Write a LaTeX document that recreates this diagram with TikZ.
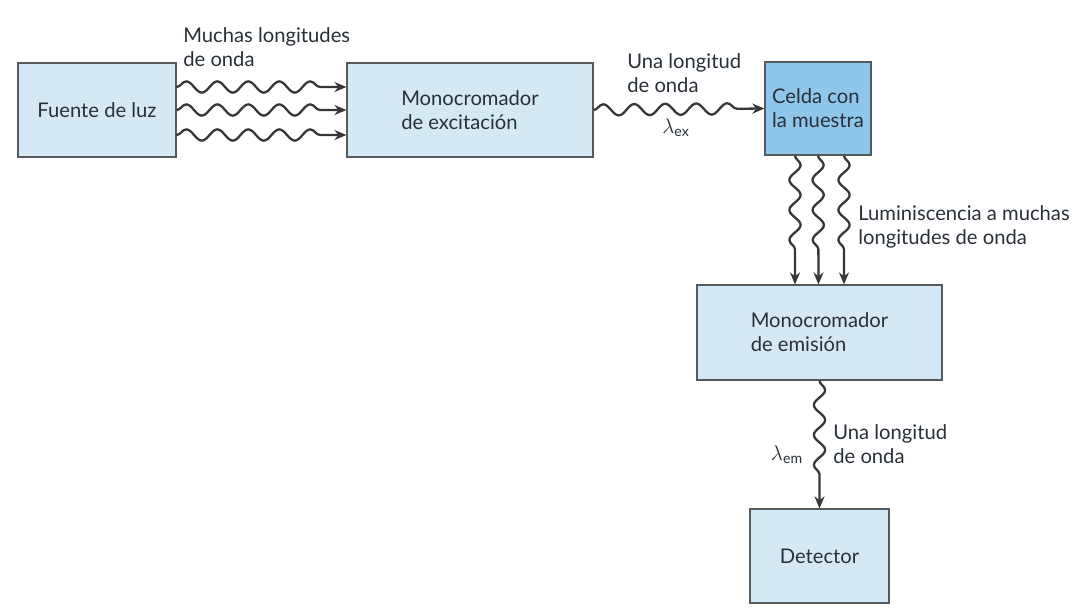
\documentclass[tikz,border=0pt]{standalone}
\usepackage{fontspec}
\setmainfont{Lato}
\usetikzlibrary{decorations.pathmorphing,arrows.meta,calc}
\definecolor{boxfill}{RGB}{212,232,245}
\definecolor{cellfill}{RGB}{142,198,236}
\definecolor{boxline}{RGB}{85,90,95}
\definecolor{txt}{RGB}{40,48,58}
\definecolor{wavec}{RGB}{55,55,55}
\begin{document}
\begin{tikzpicture}[x=0.02cm,y=-0.02cm,
  every node/.style={text=txt,font=\fontsize{11.5}{13.6}\selectfont},
  blk/.style={draw=boxline,line width=0.7pt,fill=boxfill,inner sep=0pt,align=left},
  wavehor/.style={draw=wavec,line width=1.3pt,decorate,
    decoration={snake,amplitude=3.2pt,segment length=0.62cm,post length=0.36cm},
    -{Stealth[length=2.4mm,width=2mm]}},
  wavever/.style={draw=wavec,line width=1.3pt,decorate,
    decoration={snake,amplitude=3.2pt,segment length=0.6cm,post length=0.5cm},
    -{Stealth[length=2.4mm,width=2mm]}},
  lbl/.style={inner sep=0pt,align=left,anchor=north west}]
\useasboundingbox[fill=white] (0,0) rectangle (1086,610);
% boxes
\node[blk,minimum width=3.16cm,minimum height=1.88cm] (f) at (97,110) {Fuente de luz};
\node[blk,minimum width=4.92cm,minimum height=1.88cm] (mx) at (470,110) {Monocromador\\de excitación};
\node[blk,fill=cellfill,minimum width=2.12cm,minimum height=1.86cm] (c) at (818,108.5) {Celda con\\la muestra};
\node[blk,minimum width=4.9cm,minimum height=1.9cm] (me) at (819.5,332.5) {Monocromador\\de emisión};
\node[blk,minimum width=2.78cm,minimum height=1.88cm] (d) at (819.5,556) {Detector};
% waves: source -> excitation monochromator
\draw[wavehor] ($(f.east)+(0,-23)$) -- ($(mx.west)+(0,-23)$);
\draw[wavehor] (f.east) -- (mx.west);
\draw[wavehor] ($(f.east)+(0,25)$) -- ($(mx.west)+(0,25)$);
% excitation -> cell
\draw[wavehor] (mx.east) -- (c.west);
% cell -> emission monochromator
\draw[wavever] ($(c.south)+(-23,0)$) -- ($(me.north)+(-24.5,0)$);
\draw[wavever] (c.south) -- ($(me.north)+(-1,0)$);
\draw[wavever] ($(c.south)+(26,0)$) -- ($(me.north)+(24.5,0)$);
% emission -> detector
\draw[wavever] (me.south) -- (d.north);
% labels
\node[lbl] (l1) at (183,27) {Muchas longitudes\\de onda};
\node[lbl] (l2) at (627,53) {Una longitud\\de onda};
\node[inner sep=0pt] (lx) at (676,128) {$\lambda_{\mathrm{ex}}$};
\node[lbl] (l3) at (858,205) {Luminiscencia a muchas\\longitudes de onda};
\node[inner sep=0pt] (lm) at (787,455) {$\lambda_{\mathrm{em}}$};
\node[lbl] (l4) at (833,424) {Una longitud\\de onda};
\end{tikzpicture}
\end{document}
